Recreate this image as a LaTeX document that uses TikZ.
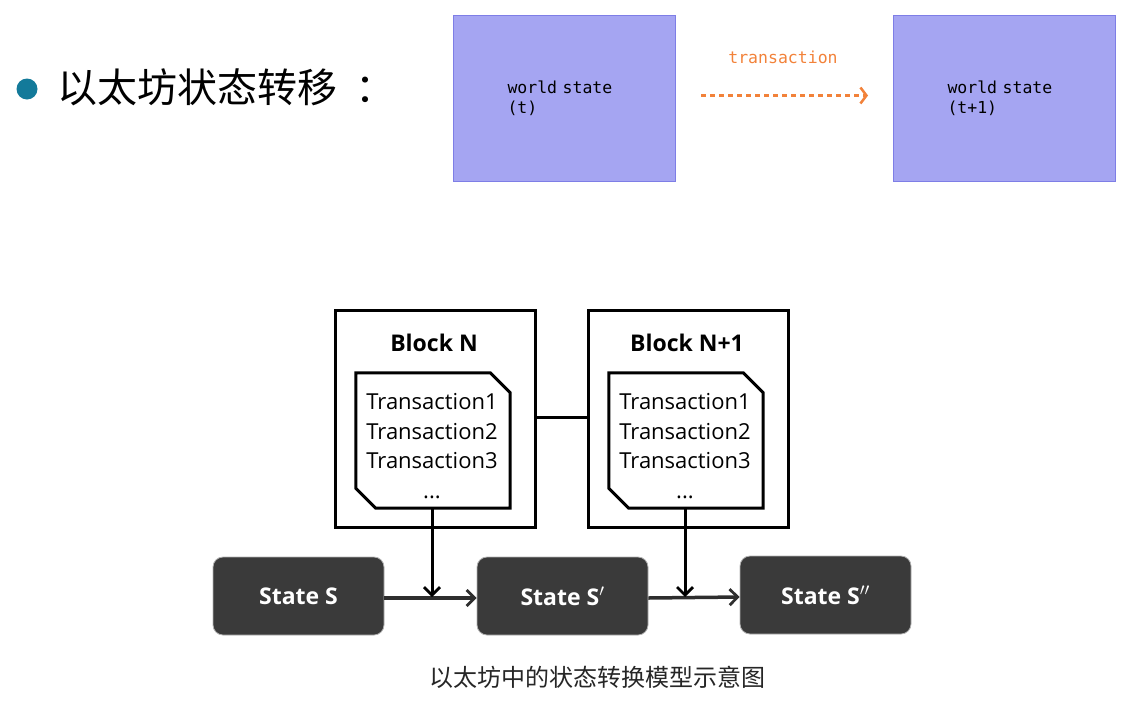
\documentclass[tikz,border=0pt]{standalone}
\usepackage{fontspec}
\setmainfont{Open Sans}
\newfontfamily\cjk{Noto Sans CJK SC}
\newfontfamily\monof{DejaVu Sans Mono}
\newcommand\monoset{\monof\fontsize{16.5}{20}\selectfont\spaceskip=9.9pt\relax}
\usetikzlibrary{arrows.meta}
\definecolor{wsfill}{HTML}{A5A5F2}
\definecolor{wsborder}{HTML}{7E7EE6}
\definecolor{orangearr}{HTML}{F2823A}
\definecolor{bullet}{HTML}{137A9A}
\definecolor{statefill}{HTML}{3A3A3A}
\definecolor{linegray}{HTML}{2E2E2E}
\tikzset{
  wsbox/.style={draw=wsborder, fill=wsfill, line width=1pt, anchor=north west,
    minimum width=222pt, minimum height=166pt, inner xsep=54pt, text width=114pt,
    align=left, font=\monoset},
  blockbox/.style={draw, line width=2.8pt, anchor=north west, minimum width=200pt, minimum height=217pt},
  blocktitle/.style={font=\bfseries\fontsize{23}{26}\selectfont},
  docarea/.style={minimum width=154pt, minimum height=135pt, inner sep=0pt},
  docline/.style={draw=black, line width=3pt, line join=miter},
  doctext/.style={align=center, font=\fontsize{22}{29.5}\selectfont},
  statebox/.style={draw=gray!60, fill=statefill, rounded corners=10pt, line width=0.8pt,
    minimum width=171pt, minimum height=78pt, text=white,
    font=\bfseries\fontsize{23}{26}\selectfont},
  arrline/.style={draw=black, line width=3pt, -{Straight Barb[length=8pt,width=16pt,line width=2.8pt]}},
  harr/.style={draw=linegray, line width=3.5pt, -{Straight Barb[length=8pt,width=16pt,line width=2.8pt]}},
}
\begin{document}
\begin{tikzpicture}[x=1pt,y=-1pt]
\useasboundingbox (0,0) rectangle (1134,707);
% title
\fill[bullet] (27,89) circle (10.5);
\node[anchor=west, inner sep=0pt, font=\cjk\fontsize{40}{44}\selectfont] (title) at (57,87) {以太坊状态转移\hspace{18pt}：};
% world states
\node[wsbox] (w1) at (453,15) {world state\\(t)};
\node[wsbox] (w2) at (893,15) {world state\\(t+1)};
\draw[orangearr, line width=2.5pt, dash pattern=on 5pt off 4pt, shorten <=25pt, shorten >=25pt,
  -{Straight Barb[length=6pt,width=16pt,line width=2.5pt]}]
  ([yshift=3pt]w1.east) -- ([yshift=3pt]w2.west);
\node[text=orangearr, font=\monoset] (tx) at (783,57) {transaction};
% blocks
\node[blockbox] (b1) at (334,309) {};
\node[blockbox] (b2) at (587,309) {};
\node[blocktitle] (bt1) at (434,343) {Block N};
\node[blocktitle] (bt2) at (687,343) {Block N+1};
\node[docarea] (d1) at (433,440.5) {};
\node[docarea] (d2) at (686,440.5) {};
\foreach \d in {d1,d2}{
  \draw[docline] (\d.north west) -- ([xshift=-20pt]\d.north east) -- ([yshift=-20pt]\d.north east)
    -- (\d.south east) -- ([xshift=20pt]\d.south west) -- ([yshift=20pt]\d.south west) -- cycle;
}
\node[doctext] (t1) at (432,446) {Transaction1\\Transaction2\\Transaction3\\...};
\node[doctext] (t2) at (685,446) {Transaction1\\Transaction2\\Transaction3\\...};
\draw[line width=3pt] (b1.east |- 0,417) -- (b2.west |- 0,417);
% states
\node[statebox] (s1) at (298.5,596) {State S};
\node[statebox] (s2) at (562.5,596) {State S$'$};
\node[statebox] (s3) at (825.5,595) {State S$''$};
\draw[harr] ([yshift=-2pt]s1.east) -- ([yshift=-2pt]s2.west);
\draw[harr] ([yshift=-2pt]s2.east) -- ([yshift=-2pt]s3.west);
\coordinate (m1) at (432,597);
\coordinate (m2) at (685,597);
\draw[arrline] (d1.south -| m1) -- (m1);
\draw[arrline] (d2.south -| m2) -- (m2);
% caption
\node[font=\cjk\fontsize{24}{28}\selectfont, text=black!85] (cap) at (597,677) {以太坊中的状态转换模型示意图};
\end{tikzpicture}
\end{document}
